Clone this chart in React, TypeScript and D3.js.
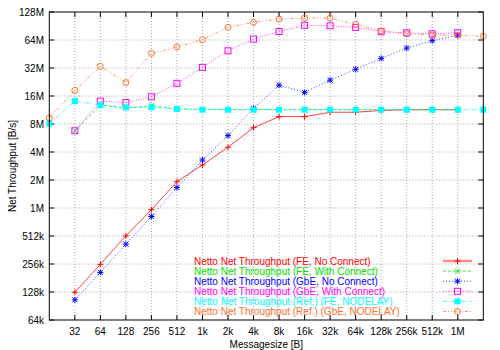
import React from "react";
import * as d3 from "d3";

// message sizes in bytes
const sizes = [32, 64, 128, 256, 512, 1024, 2048, 4096, 8192, 16384, 32768, 65536, 131072, 262144, 524288, 1048576];
const refSizes = [16, ...sizes, 2097152];

const xTickLabels = ["32", "64", "128", "256", "512", "1k", "2k", "4k", "8k", "16k", "32k", "64k", "128k", "256k", "512k", "1M"];
const yTickLabels = ["64k", "128k", "256k", "512k", "1M", "2M", "4M", "8M", "16M", "32M", "64M", "128M"];

// throughput, in M (2^20 B/s)
const feNoConnect = [0.124, 0.248, 0.502, 0.96, 1.92, 2.9, 4.5, 7.3, 9.6, 9.6, 10.7, 10.7, 11.2, 11.4, 11.4, 11.4];
const feWithConnect = [6.77, 12.8, 11.8, 12.6, 11.6, 11.5, 11.4, 11.4, 11.4, 11.4, 11.4, 11.4, 11.4, 11.4, 11.4, 11.4];
const gbeNoConnect = [0.103, 0.203, 0.408, 0.81, 1.66, 3.28, 6.0, 11.8, 20.9, 17.5, 23.7, 31, 40.6, 52.4, 63, 72];
const gbeWithConnect = [6.77, 14.1, 13.6, 15.7, 21.9, 32.5, 49, 65.5, 79, 92, 91, 87.5, 78.6, 76.6, 74.6, 76.6];
const refFe = [8.1, 14.1, 12.8, 12.1, 12.1, 11.6, 11.4, 11.4, 11.4, 11.4, 11.4, 11.4, 11.4, 11.4, 11.4, 11.4, 11.4, 11.4];
const refGbe = [9.3, 18.4, 33.3, 22.3, 46, 53.8, 64.5, 87.6, 99, 107.6, 110, 110, 94.5, 80, 74.6, 72.3, 72, 70];

const series = [
  { name: "Netto Net Throughput (FE, No Connect)", x: sizes, y: feNoConnect, color: "#ff0000", dash: "", marker: "plus" },
  { name: "Netto Net Throughput (FE, With Connect)", x: sizes, y: feWithConnect, color: "#00e000", dash: "3,2", marker: "cross" },
  { name: "Netto Net Throughput (GbE, No Connect)", x: sizes, y: gbeNoConnect, color: "#0000ff", dash: "1,2", marker: "star" },
  { name: "Netto Net Throughput (GbE, With Connect)", x: sizes, y: gbeWithConnect, color: "#ff00ff", dash: "1,1.5", marker: "box" },
  { name: "Netto Net Throughput (Ref.) (FE, NODELAY)", x: refSizes, y: refFe, color: "#00ffff", dash: "4,2,1,2", marker: "fbox" },
  { name: "Netto Net Throughput (Ref.) (GbE, NODELAY)", x: refSizes, y: refGbe, color: "#ff7030", dash: "3,2,1,2,1,2", marker: "circle" },
];

const Marker = ({ kind, x, y, color }: { kind: string; x: number; y: number; color: string }) => {
  const s = 3;
  switch (kind) {
    case "plus":
      return <path d={`M${x - s},${y}H${x + s}M${x},${y - s}V${y + s}`} stroke={color} fill="none" />;
    case "cross":
      return <path d={`M${x - 2.5},${y - 2.5}L${x + 2.5},${y + 2.5}M${x - 2.5},${y + 2.5}L${x + 2.5},${y - 2.5}`} stroke={color} fill="none" />;
    case "star":
      return (
        <path
          d={`M${x - s},${y}H${x + s}M${x},${y - s}V${y + s}M${x - 2.5},${y - 2.5}L${x + 2.5},${y + 2.5}M${x - 2.5},${y + 2.5}L${x + 2.5},${y - 2.5}`}
          stroke={color}
          fill="none"
        />
      );
    case "box":
      return <rect x={x - s} y={y - s} width={2 * s} height={2 * s} stroke={color} fill="none" />;
    case "fbox":
      return <rect x={x - s} y={y - s} width={2 * s} height={2 * s} fill={color} />;
    case "circle":
      return <circle cx={x} cy={y} r={s} stroke={color} fill="none" />;
  }
  return null;
};

export default function App() {
  const width = 500;
  const height = 350;
  const left = 49.3, right = 483.3, top = 12, bottom = 320;

  const x = d3.scaleLog().base(2).domain([16, 2097152]).range([left, right]);
  const y = d3.scaleLog().base(2).domain([1 / 16, 128]).range([bottom, top]);
  const yTicks = yTickLabels.map((_, i) => Math.pow(2, i - 4));

  const line = d3
    .line<[number, number]>()
    .x(d => x(d[0]))
    .y(d => y(d[1]));

  const font = "'Liberation Sans', Arial, sans-serif";

  return (
    <svg width={width} height={height} style={{ position: "absolute", left: 0, top: 0, background: "#fff" }} fontFamily={font} fontSize={10}>
      {/* grid */}
      <g stroke="#a8a8a8" strokeDasharray="1,2" strokeWidth={1}>
        {sizes.map(s => (
          <line key={"gx" + s} x1={x(s)} x2={x(s)} y1={top} y2={bottom} />
        ))}
        {yTicks.slice(1, -1).map(v => (
          <line key={"gy" + v} x1={left} x2={right} y1={y(v)} y2={y(v)} />
        ))}
      </g>
      {/* ticks */}
      <g stroke="#000">
        {sizes.map(s => (
          <g key={"tx" + s}>
            <line x1={x(s)} x2={x(s)} y1={bottom} y2={bottom - 5} />
            <line x1={x(s)} x2={x(s)} y1={top} y2={top + 5} />
          </g>
        ))}
        {yTicks.map(v => (
          <g key={"ty" + v}>
            <line x1={left} x2={left + 5} y1={y(v)} y2={y(v)} />
            <line x1={right} x2={right - 5} y1={y(v)} y2={y(v)} />
          </g>
        ))}
      </g>
      {xTickLabels.map((t, i) => (
        <text key={"lx" + t} x={x(sizes[i])} y={335} textAnchor="middle" fill="#000">
          {t}
        </text>
      ))}
      {yTickLabels.map((t, i) => (
        <text key={"ly" + t} x={44} y={y(yTicks[i]) + 3.5} textAnchor="end" fill="#000">
          {t}
        </text>
      ))}
      <text x={(left + right) / 2} y={348} textAnchor="middle" fill="#000">
        Messagesize [B]
      </text>
      <text transform={`translate(16,${(top + bottom) / 2}) rotate(-90)`} textAnchor="middle" fill="#000">
        Net Throughput [B/s]
      </text>

      {/* series */}
      {series.map(s => {
        const pts = s.x.map((v, i) => [v, s.y[i]] as [number, number]);
        return (
          <g key={s.name}>
            <path d={line(pts) ?? ""} fill="none" stroke={s.color} strokeWidth={1} strokeDasharray={s.dash} opacity={0.75} />
            {pts.map((p, i) => (
              <Marker key={i} kind={s.marker} x={x(p[0])} y={y(p[1])} color={s.color} />
            ))}
          </g>
        );
      })}

      {/* legend */}
      {series.map((s, i) => {
        const ly = 261 + i * 10.1;
        return (
          <g key={"leg" + s.name}>
            <text x={194} y={ly + 3.5} fill={s.color}>
              {s.name}
            </text>
            <line x1={443} x2={472} y1={ly} y2={ly} stroke={s.color} strokeDasharray={s.dash} strokeWidth={i === 0 ? 2.5 : 1} opacity={i === 0 ? 0.45 : 0.75} />
            <Marker kind={s.marker} x={457.5} y={ly} color={s.color} />
          </g>
        );
      })}

      {/* border */}
      <rect x={left} y={top} width={right - left} height={bottom - top} fill="none" stroke="#000" />
    </svg>
  );
}
